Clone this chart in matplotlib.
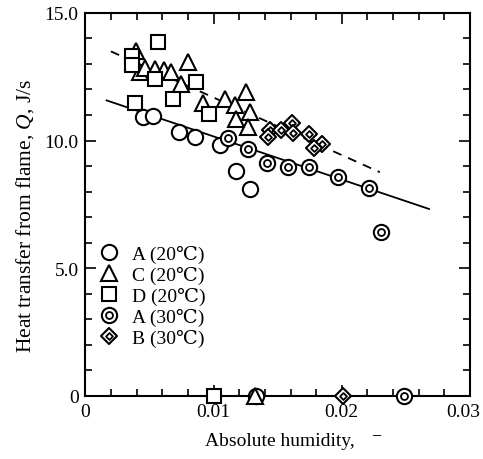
#!/usr/bin/env python3
"""Heat transfer from flame vs absolute humidity (scatter with two fitted lines)."""

import matplotlib
matplotlib.use("Agg")
import matplotlib.pyplot as plt
from matplotlib.lines import Line2D
from matplotlib.markers import MarkerStyle
from matplotlib.ticker import MultipleLocator, FixedLocator
from matplotlib.transforms import ScaledTranslation

plt.rcParams['font.family'] = ['Liberation Serif', 'DejaVu Serif']
plt.rcParams['mathtext.fontset'] = 'custom'
plt.rcParams['mathtext.it'] = 'Liberation Serif:italic'
plt.rcParams['mathtext.rm'] = 'Liberation Serif'

# A (20 C) - open circles
a20_x = [0.00447, 0.00525, 0.00728, 0.00852, 0.01047, 0.01171, 0.01280, 0.01327]
a20_q = [10.93, 10.97, 10.34, 10.14, 9.83, 8.81, 8.11, 0.0]

# C (20 C) - triangles
c20_x = [0.00393, 0.00424, 0.00463, 0.00541, 0.00611, 0.00665, 0.00743, 0.00798,
         0.00914, 0.01085, 0.01163, 0.01249, 0.01280, 0.01171, 0.01265, 0.01319]
c20_q = [13.51, 12.69, 12.85, 12.81, 12.77, 12.69, 12.22, 13.08,
         11.48, 11.63, 11.40, 11.90, 11.12, 10.85, 10.54, 0.0]

# D (20 C) - squares
d20_x = [0.00385, 0.00360, 0.00360, 0.00564, 0.00541, 0.00681, 0.00860, 0.00961, 0.01000]
d20_q = [11.48, 13.32, 12.97, 13.87, 12.42, 11.63, 12.30, 11.05, 0.0]

# A (30 C) - double circles
a30_x = [0.01111, 0.01267, 0.01418, 0.01578, 0.01742, 0.01967, 0.02214, 0.02305, 0.02486]
a30_q = [10.11, 9.67, 9.13, 8.96, 8.98, 8.59, 8.14, 6.41, 0.0]

# B (30 C) - double diamonds
b30_x = [0.01441, 0.01423, 0.01527, 0.01612, 0.01617, 0.01742, 0.01846, 0.01786, 0.02012]
b30_q = [10.43, 10.13, 10.43, 10.69, 10.30, 10.26, 9.87, 9.70, 0.0]

# fitted lines (end points)
solid_x = [0.00165, 0.02681]
solid_q = [11.57, 7.32]
dashed_x = [0.00198, 0.02297]
dashed_q = [13.49, 8.76]

labels = ['A (20\u2103)', 'C (20\u2103)', 'D (20\u2103)', 'A (30\u2103)', 'B (30\u2103)']

x_ticks = [0, 0.01, 0.02, 0.03]
x_tick_labels = ['0', '0.01', '0.02', '0.03']
y_ticks = [0, 5, 10, 15]
y_tick_labels = ['0', '5.0', '10.0', '15.0']


def marker_kw(marker, size, ew=1.5):
    return dict(linestyle='none', marker=marker, markersize=size,
                markerfacecolor='white', markeredgecolor='black',
                markeredgewidth=ew)


fig = plt.figure(figsize=(4.83, 4.60), dpi=100)
ax = fig.add_axes([0.177, 0.137, 0.796, 0.833])

ax.plot(solid_x, solid_q, color='black', linewidth=1.3, zorder=2)
ax.plot(dashed_x, dashed_q, color='black', linewidth=1.3,
        linestyle=(0, (5, 4)), zorder=2)

diamond = MarkerStyle('D', joinstyle='round')

circ = marker_kw('o', 11)
tri = marker_kw('^', 11.5)
sq = marker_kw('s', 10.5)
dc_outer = marker_kw('o', 11)
dc_inner = marker_kw('o', 5, 1.3)
dia_outer = marker_kw(diamond, 8)
dia_inner = marker_kw(diamond, 3.5, 1.3)

ax.plot(a20_x, a20_q, clip_on=False, zorder=4, **circ)
ax.plot(c20_x, c20_q, clip_on=False, zorder=5, **tri)
ax.plot(d20_x, d20_q, clip_on=False, zorder=6, **sq)
ax.plot(a30_x, a30_q, clip_on=False, zorder=4, **dc_outer)
ax.plot(a30_x, a30_q, clip_on=False, zorder=4, **dc_inner)
for x, q in zip(b30_x, b30_q):
    ax.plot([x], [q], clip_on=False, zorder=7, **dia_outer)
    ax.plot([x], [q], clip_on=False, zorder=7, **dia_inner)

ax.set_xlim(0, 0.03)
ax.set_ylim(0, 15)
ax.xaxis.set_major_locator(FixedLocator(x_ticks))
ax.set_xticklabels(x_tick_labels)
ax.xaxis.set_minor_locator(MultipleLocator(0.002))
ax.yaxis.set_major_locator(FixedLocator(y_ticks))
ax.set_yticklabels(y_tick_labels)
ax.yaxis.set_minor_locator(MultipleLocator(1.0))

ax.tick_params(which='both', direction='in', top=True, right=True,
               labelsize=14, width=1.2)
ax.tick_params(which='major', length=8, pad=5)
ax.tick_params(which='minor', length=5)
for s in ax.spines.values():
    s.set_linewidth(1.5)
    s.set_zorder(3)

# last x tick label sits a bit left of its tick in the original
last = ax.get_xticklabels()[-1]
last.set_transform(last.get_transform() +
                   ScaledTranslation(-7 / 100, 0, fig.dpi_scale_trans))

ax.set_xlabel('Absolute humidity,', fontsize=14)
ax.xaxis.set_label_coords(0.506, -0.095)
# the dimensionless unit dash, raised near cap height
fig.text(376 / 483, 1 - 436 / 460, '\u2212', fontsize=13,
         ha='center', va='center')
ax.set_ylabel('Heat transfer from flame, $\\mathit{Q}$, J/s', fontsize=15.5)
ax.yaxis.set_label_coords(-0.128, 0.473)

handles = [
    Line2D([], [], **circ),
    Line2D([], [], **tri),
    Line2D([], [], **sq),
    (Line2D([], [], **dc_outer), Line2D([], [], **dc_inner)),
    (Line2D([], [], **dia_outer), Line2D([], [], **dia_inner)),
]
ax.legend(handles, labels, loc='upper left', bbox_to_anchor=(0.0, 0.43),
          frameon=False, fontsize=14, handlelength=1.0, handletextpad=0.7,
          labelspacing=0.15, borderaxespad=0.3)

fig.savefig('out.png', dpi=100)
